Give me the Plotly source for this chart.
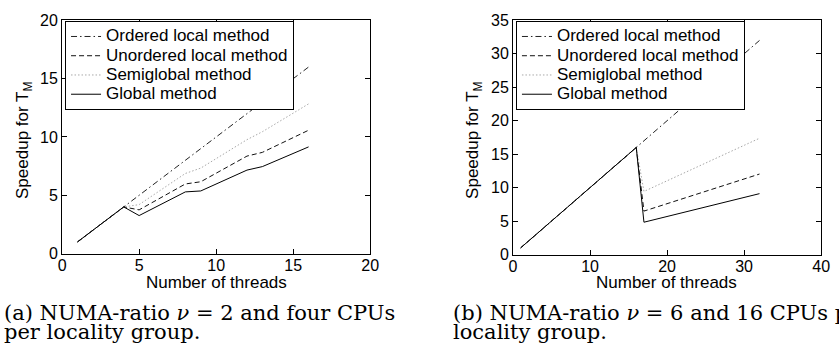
import plotly.graph_objects as go

# ---- data ----
series_names = ["Ordered local method", "Unordered local method", "Semiglobal method", "Global method"]

# (a) NUMA-ratio 2, four CPUs per locality group
threads_a = [1, 4, 5, 8, 9, 12, 13, 16]
ordered_a = [1, 4, 5, 8, 9, 12, 13, 16]
unordered_a = [1, 4, 3.75, 5.97, 6.16, 8.36, 8.68, 10.58]
semiglobal_a = [1, 4, 4.2, 6.87, 7.33, 9.77, 10.45, 12.84]
global_a = [1, 4, 3.26, 5.29, 5.37, 7.16, 7.46, 9.15]

# (b) NUMA-ratio 6, 16 CPUs per locality group
threads_b = [1, 16, 17, 32]
ordered_b = [1, 16, 17, 32]
unordered_b = [1, 16, 6.49, 12.03]
semiglobal_b = [1, 16, 9.43, 17.38]
global_b = [1, 16, 4.83, 9.10]

xticks_a = [0, 5, 10, 15, 20]
yticks_a = [0, 5, 10, 15, 20]
xticks_b = [0, 10, 20, 30, 40]
yticks_b = [0, 5, 10, 15, 20, 25, 30, 35]

caption_a = ["(a) NUMA-ratio <i>ν</i> = 2 and four CPUs", "per locality group."]
caption_b = ["(b) NUMA-ratio <i>ν</i> = 6 and 16 CPUs per", "locality group."]
x_title = "Number of threads"
y_title = "Speedup for T<sub>M</sub>"

# ---- styling ----
W, H = 839, 353
SANS = "Liberation Sans, Arial, Helvetica, sans-serif"
SERIF = "DejaVu Serif, serif"
styles = [
    dict(color="#222222", width=1, dash="6px,3px,1.5px,3px"),
    dict(color="#111111", width=1, dash="5px,3px"),
    dict(color="#a8a8a8", width=1, dash="1.5px,2px"),
    dict(color="#000000", width=1, dash="solid"),
]

fig = go.Figure()

sets = [
    (threads_a, [ordered_a, unordered_a, semiglobal_a, global_a], "x", "y", "legend"),
    (threads_b, [ordered_b, unordered_b, semiglobal_b, global_b], "x2", "y2", "legend2"),
]
for xs, ys_list, xa, ya, lg in sets:
    for name, ys, st in zip(series_names, ys_list, styles):
        fig.add_trace(go.Scatter(x=xs, y=ys, mode="lines",
                                 name='<span style="font-size:17px">' + name + '</span>',
                                 line=st, xaxis=xa, yaxis=ya, legend=lg))

def px_x(p):
    return p / W

def px_y(p):
    return 1 - p / H

axis_common = dict(showline=True, linecolor="black", linewidth=1, mirror="ticks",
                   ticks="inside", ticklen=5, tickcolor="black", tickwidth=1,
                   showgrid=False, zeroline=False,
                   tickfont=dict(family=SANS, size=16, color="black"))
xaxis_extra = dict(ticklabelstandoff=-3)

legend_common = dict(xanchor="left", yanchor="top",
                     bordercolor="black", borderwidth=1, bgcolor="white",
                     font=dict(family=SANS, size=12.5, color="black"), tracegroupgap=0)

fig.update_layout(
    width=W, height=H,
    margin=dict(l=0, r=0, t=0, b=0),
    paper_bgcolor="white", plot_bgcolor="white",
    xaxis=dict(domain=[px_x(59), px_x(372)], range=[0, 20], tickvals=xticks_a, anchor="y",
               **axis_common, **xaxis_extra),
    yaxis=dict(domain=[px_y(258), px_y(13)], range=[0, 20], tickvals=yticks_a, anchor="x", **axis_common),
    xaxis2=dict(domain=[px_x(517), px_x(830)], range=[0, 40], tickvals=xticks_b, anchor="y2",
                **axis_common, **xaxis_extra),
    yaxis2=dict(domain=[px_y(259), px_y(13)], range=[0, 35], tickvals=yticks_b, anchor="x2", **axis_common),
    legend=dict(x=px_x(62), y=px_y(13.5), **legend_common),
    legend2=dict(x=px_x(520), y=px_y(13.5), **legend_common),
    showlegend=True,
)

ann = []
# axis titles
for cx in (216, 673):
    ann.append(dict(text=x_title, x=px_x(cx), y=px_y(288), xref="paper", yref="paper",
                    showarrow=False, xanchor="center", yanchor="middle",
                    font=dict(family=SANS, size=17, color="black")))
for cx in (21, 478):
    ann.append(dict(text=y_title, x=px_x(cx), y=px_y(139), xref="paper", yref="paper",
                    showarrow=False, textangle=-90, xanchor="center", yanchor="middle",
                    font=dict(family=SANS, size=17, color="black")))
# captions
for lines, lx in ((caption_a, -2), (caption_b, 454)):
    for i, t in enumerate(lines):
        ann.append(dict(text=t, x=px_x(lx), y=px_y(320 + 20 * i), xref="paper", yref="paper",
                        showarrow=False, xanchor="left", yanchor="middle", align="left",
                        font=dict(family=SERIF, size=21, color="black")))
fig.update_layout(annotations=ann)

fig.write_html("out.html", config={"displayModeBar": False},
               post_script="document.body.style.margin='0';document.body.style.overflow='hidden';")
